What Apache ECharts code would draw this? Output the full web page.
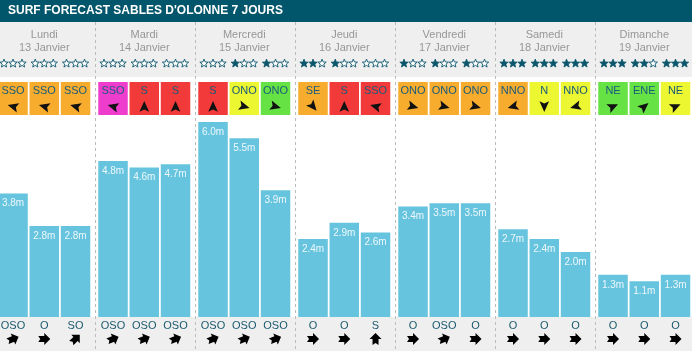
<!DOCTYPE html>
<html><head><meta charset="utf-8">
<script src="https://cdn.jsdelivr.net/npm/echarts@6/dist/echarts.min.js"></script>
<style>html,body{margin:0;padding:0;background:#fff}#c{width:692px;height:351px}</style>
</head><body><div id="c"></div>
<script>
// ---- data ----
const titleText = "SURF FORECAST SABLES D'OLONNE 7 JOURS";
const days = ['Lundi','Mardi','Mercredi','Jeudi','Vendredi','Samedi','Dimanche'];
const dates = ['13 Janvier','14 Janvier','15 Janvier','16 Janvier','17 Janvier','18 Janvier','19 Janvier'];
const slots = ['Matin','Midi','Soir'];
const waveHeights = [[3.8,2.8,2.8],[4.8,4.6,4.7],[6.0,5.5,3.9],[2.4,2.9,2.6],[3.4,3.5,3.5],[2.7,2.4,2.0],[1.3,1.1,1.3]];
const starRatings = [[0,0,0],[0,0,0],[0,1,1],[2,1,0],[1,1,1],[3,3,3],[3,2,3]];
const windDirs = [['SSO','SSO','SSO'],['SSO','S','S'],['S','ONO','ONO'],['SE','S','SSO'],['ONO','ONO','ONO'],['NNO','N','NNO'],['NE','ENE','NE']];
const windLevels = [[3,3,3],[5,4,4],[4,2,1],[3,4,4],[3,3,3],[3,2,2],[1,1,2]];
const swellDirs = [['OSO','O','SO'],['OSO','OSO','OSO'],['OSO','OSO','OSO'],['O','O','S'],['O','OSO','O'],['O','O','O'],['O','O','O']];

// ---- styles ----
const FONT = '"Liberation Sans", Arial, Helvetica, sans-serif';
const windColors = {1:'#66e244',2:'#ecf631',3:'#f7ac2e',4:'#f23a3a',5:'#ee3dcd'};
const windAngle = {S:0,SSO:285,ONO:105,SE:140,NNO:255,N:180,NE:65,ENE:50};
const swellAngle = {O:90,OSO:67.5,SO:45,S:0};
const windArrow = [[0,-5.5],[4.8,5.2],[0,3],[-4.8,5.2]];
const swellArrow = [[0,-6],[6,0],[3,0],[3,6],[0,4],[-3,6],[-3,0],[-6,0]];
function starPts(r1, r2){
  const p=[];
  for(let k=0;k<10;k++){
    const r = k%2===0 ? r1 : r2;
    const a = -Math.PI/2 + k*Math.PI/5;
    p.push([r*Math.cos(a), r*Math.sin(a)]);
  }
  return p;
}
const STAR = starPts(4.4, 1.9);
const BAR_W = 29.5;

function renderer(d){
  return function(params, api){
    const i = params.dataIndex;
    const x = api.coord([i, 0])[0];
    const ch = [];
    ch.push({type:'rect', shape:{x:x-BAR_W/2, y:82, width:BAR_W, height:33}, style:{fill:windColors[windLevels[d][i]]}});
    ch.push({type:'text', x:x, y:90.5, style:{text:windDirs[d][i], fill:'#1a5b7a', font:'11px '+FONT, align:'center', verticalAlign:'middle'}});
    ch.push({type:'polygon', x:x, y:106.5, rotation:-windAngle[windDirs[d][i]]*Math.PI/180, shape:{points:windArrow}, style:{fill:'#111'}});
    for(let k=0;k<3;k++){
      const filled = k < starRatings[d][i];
      ch.push({type:'polygon', x:x+(k-1)*9, y:63.5, shape:{points:STAR},
        style: filled ? {fill:'#0b566b', stroke:'#0b566b', lineWidth:0.8} : {fill:'#ffffff', stroke:'#0b566b', lineWidth:0.9}});
    }
    ch.push({type:'polygon', x:x, y:339, rotation:-swellAngle[swellDirs[d][i]]*Math.PI/180, shape:{points:swellArrow}, style:{fill:'#000'}});
    return {type:'group', children:ch};
  };
}

const grids=[], xAxes=[], yAxes=[], series=[];
for(let d=0; d<7; d++){
  grids.push({left:-2.6+100*d, top:122, width:93.75, height:195, outerBoundsMode:'none', containLabel:false});
  xAxes.push({type:'category', gridIndex:d, data:slots, position:'bottom',
    axisLine:{show:false}, axisTick:{show:false}, splitLine:{show:false},
    axisLabel:{show:true, margin:3, interval:0, color:'#1b5a6e', fontSize:11, fontFamily:FONT,
      formatter:(v, idx)=>swellDirs[d][idx]}});
  xAxes.push({type:'category', gridIndex:d, data:[days[d]], position:'top', offset:67,
    axisLine:{show:false}, axisTick:{show:false}, splitLine:{show:false},
    axisLabel:{show:true, margin:0, interval:0, color:'#979797', fontSize:11, fontFamily:FONT, lineHeight:13.5,
      formatter:(v)=>v+'\n'+dates[d]}});
  yAxes.push({type:'value', gridIndex:d, min:0, max:6, show:false, splitLine:{show:false}});
  series.push({type:'bar', xAxisIndex:2*d, yAxisIndex:d, data:waveHeights[d], barWidth:BAR_W,
    itemStyle:{color:'#66c4de'}, animation:false,
    label:{show:true, position:'insideTop', distance:5, color:'#eef8fc', fontSize:10, fontFamily:FONT,
      formatter:p=>p.value.toFixed(1)+'m'}});
  series.push({type:'custom', xAxisIndex:2*d, yAxisIndex:d, data:slots.map((s,k)=>[k,0]),
    renderItem:renderer(d), animation:false, clip:false, silent:true, z:3});
}

const graphic = [
  {type:'rect', z:-10, shape:{x:0,y:0,width:692,height:22}, style:{fill:'#02566b'}},
  {type:'text', z:-9, x:8, y:11, style:{text:titleText, fill:'#ffffff', font:'bold 12px '+FONT, verticalAlign:'middle'}},
  {type:'rect', z:-10, shape:{x:0,y:22,width:692,height:55}, style:{fill:'#efefef'}},
  {type:'rect', z:-10, shape:{x:0,y:317,width:692,height:34}, style:{fill:'#efefef'}}
];
for(let d=1; d<7; d++){
  graphic.push({type:'line', z:-8, shape:{x1:95.5+100*(d-1), y1:22, x2:95.5+100*(d-1), y2:351},
    style:{stroke:'#bbbbbb', lineWidth:1, lineDash:[3,3]}});
}

const chart = echarts.init(document.getElementById('c'), null, {renderer:'canvas'});
chart.setOption({animation:false, grid:grids, xAxis:xAxes, yAxis:yAxes, series:series, graphic:graphic});
</script></body></html>
